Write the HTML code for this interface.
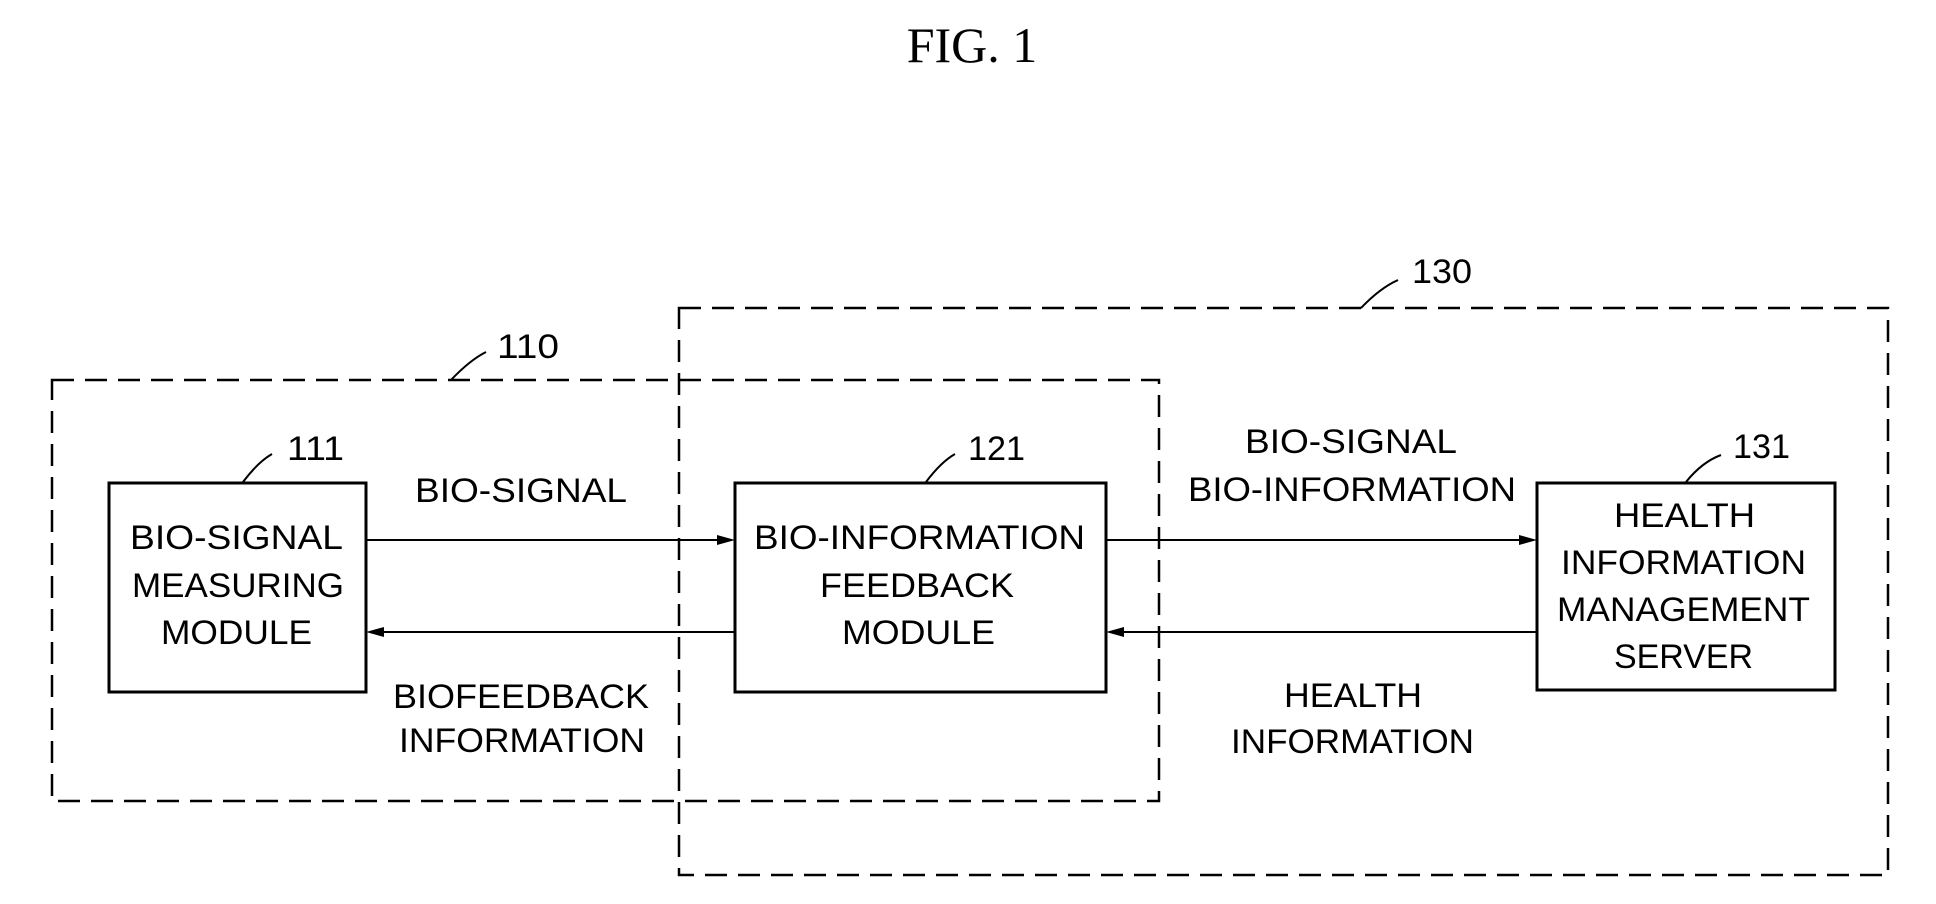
<!DOCTYPE html>
<html><head><meta charset="utf-8"><style>
html,body{margin:0;padding:0;background:#fff;}
svg{display:block;}
text{font-family:"Liberation Sans",sans-serif;fill:#000;}
</style></head><body>
<svg width="1936" height="904" viewBox="0 0 1936 904" xmlns="http://www.w3.org/2000/svg">
<text x="972" y="62" text-anchor="middle" style="font-family:'Liberation Serif',serif;font-size:50px">FIG.  1</text>
<g fill="none" stroke="#000" stroke-width="2.5" stroke-dasharray="22 11">
<rect x="52" y="380" width="1107" height="421"/>
<rect x="679" y="308" width="1209" height="567"/>
</g>
<g fill="none" stroke="#000" stroke-width="3">
<rect x="109" y="483" width="257" height="209"/>
<rect x="735" y="483" width="371" height="209"/>
<rect x="1537" y="483" width="298" height="207"/>
</g>
<g stroke="#000" stroke-width="2" fill="none">
<line x1="366" y1="540" x2="720" y2="540"/>
<line x1="381" y1="632" x2="735" y2="632"/>
<line x1="1106" y1="540" x2="1522" y2="540"/>
<line x1="1121" y1="632" x2="1537" y2="632"/>
<path d="M451 380 Q470 360 486 352"/>
<path d="M243 482 Q258 462 272 454"/>
<path d="M926 482 Q941 462 955 454"/>
<path d="M1361 308 Q1380 288 1398 280"/>
<path d="M1686 482 Q1702 462 1721 455"/>
</g>
<g fill="#000">
<polygon points="735,540 717,535 717,545"/>
<polygon points="366,632 384,627 384,637"/>
<polygon points="1537,540 1519,535 1519,545"/>
<polygon points="1106,632 1124,627 1124,637"/>
</g>
<g style="font-size:34px" lengthAdjust="spacingAndGlyphs">
<text x="497" y="358" textLength="62" lengthAdjust="spacingAndGlyphs">110</text>
<text x="287" y="460" textLength="57" lengthAdjust="spacingAndGlyphs">111</text>
<text x="968" y="460" textLength="57" lengthAdjust="spacingAndGlyphs">121</text>
<text x="1412" y="283" textLength="60" lengthAdjust="spacingAndGlyphs">130</text>
<text x="1733" y="458" textLength="57" lengthAdjust="spacingAndGlyphs">131</text>
<text x="415" y="502" textLength="212" lengthAdjust="spacingAndGlyphs">BIO-SIGNAL</text>
<text x="130" y="549" textLength="213" lengthAdjust="spacingAndGlyphs">BIO-SIGNAL</text>
<text x="132" y="597" textLength="212" lengthAdjust="spacingAndGlyphs">MEASURING</text>
<text x="161" y="644" textLength="151" lengthAdjust="spacingAndGlyphs">MODULE</text>
<text x="393" y="708" textLength="256" lengthAdjust="spacingAndGlyphs">BIOFEEDBACK</text>
<text x="399" y="752" textLength="246" lengthAdjust="spacingAndGlyphs">INFORMATION</text>
<text x="754" y="549" textLength="331" lengthAdjust="spacingAndGlyphs">BIO-INFORMATION</text>
<text x="820" y="597" textLength="194" lengthAdjust="spacingAndGlyphs">FEEDBACK</text>
<text x="842" y="644" textLength="153" lengthAdjust="spacingAndGlyphs">MODULE</text>
<text x="1245" y="453" textLength="212" lengthAdjust="spacingAndGlyphs">BIO-SIGNAL</text>
<text x="1188" y="501" textLength="328" lengthAdjust="spacingAndGlyphs">BIO-INFORMATION</text>
<text x="1614" y="527" textLength="141" lengthAdjust="spacingAndGlyphs">HEALTH</text>
<text x="1561" y="574" textLength="245" lengthAdjust="spacingAndGlyphs">INFORMATION</text>
<text x="1557" y="621" textLength="253" lengthAdjust="spacingAndGlyphs">MANAGEMENT</text>
<text x="1614" y="668" textLength="139" lengthAdjust="spacingAndGlyphs">SERVER</text>
<text x="1284" y="707" textLength="138" lengthAdjust="spacingAndGlyphs">HEALTH</text>
<text x="1231" y="753" textLength="243" lengthAdjust="spacingAndGlyphs">INFORMATION</text>
</g>
</svg>
</body></html>
